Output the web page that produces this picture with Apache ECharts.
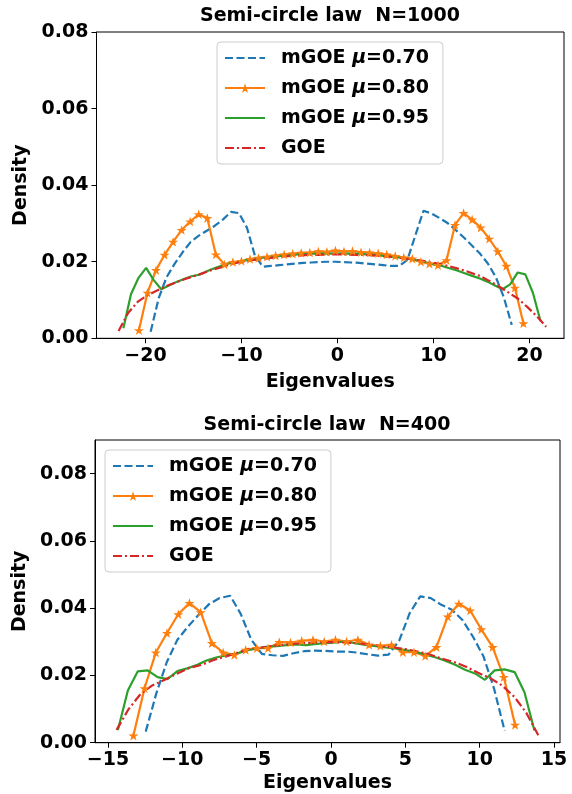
<!DOCTYPE html>
<html>
<head>
<meta charset="utf-8">
<script src="https://cdn.jsdelivr.net/npm/echarts@6/dist/echarts.min.js"></script>
<style>
html,body{margin:0;padding:0;background:#fff;}
#chart{width:572px;height:794px;}
</style>
</head>
<body>
<div id="chart"></div>
<script>
// ---------- Data: N=1000 ----------
const topBlueX = [-19.46,-18.62,-17.79,-16.95,-16.12,-15.28,-14.44,-13.61,-12.77,-11.94,-11.10,-10.26,-9.43,-8.59,-7.76,-6.92,-6.08,-5.25,-4.41,-3.58,-2.74,-1.90,-1.07,-0.23,0.60,1.44,2.28,3.11,3.95,4.78,5.62,6.46,7.29,8.13,8.96,9.80,10.64,11.47,12.31,13.14,13.98,14.82,15.65,16.49,17.32,18.16];
const topBlueY = [0.0017,0.0105,0.0160,0.0195,0.0225,0.0252,0.0268,0.0281,0.0294,0.0310,0.0330,0.0327,0.0289,0.0215,0.0187,0.0189,0.0191,0.0193,0.0195,0.0197,0.0198,0.0199,0.0200,0.0200,0.0199,0.0198,0.0197,0.0195,0.0193,0.0191,0.0189,0.0189,0.0205,0.0270,0.0333,0.0326,0.0314,0.0301,0.0283,0.0264,0.0243,0.0222,0.0196,0.0160,0.0108,0.0035];
const topOrangeX = [-20.68,-19.79,-18.90,-18.01,-17.12,-16.23,-15.34,-14.45,-13.56,-12.67,-11.78,-10.89,-10.00,-9.11,-8.22,-7.33,-6.44,-5.55,-4.66,-3.77,-2.88,-1.99,-1.10,-0.21,0.68,1.57,2.46,3.35,4.24,5.13,6.02,6.91,7.80,8.69,9.58,10.47,11.36,12.25,13.14,14.03,14.92,15.81,16.70,17.59,18.48,19.37];
const topOrangeY = [0.0021,0.0119,0.0178,0.0218,0.0252,0.0283,0.0305,0.0324,0.0314,0.0219,0.0193,0.0199,0.0202,0.0207,0.0210,0.0213,0.0216,0.0219,0.0221,0.0223,0.0224,0.0227,0.0226,0.0229,0.0227,0.0228,0.0225,0.0224,0.0222,0.0219,0.0215,0.0211,0.0208,0.0200,0.0195,0.0191,0.0204,0.0296,0.0327,0.0310,0.0289,0.0260,0.0227,0.0189,0.0132,0.0039];
const topGreenX = [-22.30,-21.51,-20.72,-19.93,-19.14,-18.35,-17.56,-16.77,-15.98,-15.19,-14.40,-13.61,-12.82,-12.03,-11.24,-10.45,-9.66,-8.87,-8.08,-7.29,-6.50,-5.71,-4.92,-4.13,-3.34,-2.55,-1.76,-0.97,-0.18,0.61,1.40,2.19,2.98,3.77,4.56,5.35,6.14,6.93,7.72,8.51,9.30,10.09,10.88,11.67,12.46,13.25,14.04,14.83,15.62,16.41,17.20,17.99,18.78,19.57,20.36,21.15];
const topGreenY = [0.0026,0.0115,0.0158,0.0184,0.0152,0.0128,0.0138,0.0147,0.0155,0.0162,0.0166,0.0175,0.0183,0.0190,0.0196,0.0199,0.0203,0.0207,0.0210,0.0212,0.0214,0.0216,0.0217,0.0219,0.0220,0.0221,0.0221,0.0222,0.0221,0.0222,0.0221,0.0221,0.0219,0.0218,0.0216,0.0214,0.0212,0.0209,0.0206,0.0202,0.0198,0.0193,0.0189,0.0183,0.0177,0.0170,0.0163,0.0156,0.0148,0.0138,0.0128,0.0141,0.0172,0.0167,0.0119,0.0045];
const topRedX = [-22.80,-21.81,-20.82,-19.83,-18.84,-17.85,-16.86,-15.87,-14.88,-13.89,-12.90,-11.91,-10.92,-9.93,-8.94,-7.95,-6.96,-5.97,-4.98,-3.99,-3.00,-2.01,-1.02,-0.03,0.96,1.95,2.94,3.93,4.92,5.91,6.90,7.89,8.88,9.87,10.86,11.85,12.84,13.83,14.82,15.81,16.80,17.79,18.78,19.77,20.76,21.75];
const topRedY = [0.0019,0.0066,0.0095,0.0112,0.0124,0.0136,0.0146,0.0155,0.0163,0.0171,0.0180,0.0187,0.0195,0.0200,0.0204,0.0207,0.0210,0.0213,0.0215,0.0216,0.0218,0.0218,0.0219,0.0219,0.0219,0.0218,0.0218,0.0216,0.0214,0.0212,0.0209,0.0206,0.0202,0.0198,0.0193,0.0187,0.0180,0.0172,0.0163,0.0150,0.0136,0.0120,0.0104,0.0082,0.0058,0.0030];

// ---------- Data: N=400 ----------
const botBlueX = [-12.46,-11.75,-11.04,-10.33,-9.62,-8.91,-8.20,-7.49,-6.78,-6.07,-5.36,-4.65,-3.94,-3.23,-2.52,-1.81,-1.10,-0.39,0.32,1.03,1.74,2.45,3.16,3.87,4.58,5.29,6.00,6.71,7.42,8.13,8.84,9.55,10.26,10.97,11.68];
const botBlueY = [0.0033,0.0146,0.0240,0.0306,0.0345,0.0380,0.0412,0.0430,0.0437,0.0383,0.0306,0.0264,0.0260,0.0258,0.0266,0.0272,0.0274,0.0273,0.0271,0.0271,0.0268,0.0263,0.0259,0.0262,0.0303,0.0385,0.0435,0.0430,0.0410,0.0395,0.0365,0.0315,0.0256,0.0160,0.0035];
const botOrangeX = [-13.29,-12.54,-11.78,-11.03,-10.27,-9.52,-8.76,-8.01,-7.25,-6.50,-5.74,-4.99,-4.23,-3.48,-2.72,-1.97,-1.21,-0.46,0.30,1.05,1.81,2.56,3.32,4.07,4.83,5.58,6.34,7.09,7.85,8.60,9.36,10.11,10.87,11.62,12.38];
const botOrangeY = [0.0021,0.0162,0.0268,0.0326,0.0382,0.0415,0.0388,0.0296,0.0268,0.0261,0.0276,0.0281,0.0281,0.0299,0.0298,0.0303,0.0306,0.0301,0.0306,0.0301,0.0306,0.0291,0.0288,0.0291,0.0269,0.0269,0.0258,0.0284,0.0375,0.0413,0.0393,0.0337,0.0284,0.0195,0.0053];
const botGreenX = [-14.33,-13.66,-13.00,-12.33,-11.66,-11.00,-10.33,-9.66,-8.99,-8.33,-7.66,-6.99,-6.33,-5.66,-4.99,-4.33,-3.66,-2.99,-2.32,-1.66,-0.99,-0.32,0.34,1.01,1.68,2.34,3.01,3.68,4.35,5.01,5.68,6.35,7.01,7.68,8.35,9.01,9.68,10.35,11.01,11.68,12.35,13.01,13.68];
const botGreenY = [0.0038,0.0155,0.0212,0.0215,0.0195,0.0189,0.0213,0.0221,0.0232,0.0245,0.0254,0.0260,0.0265,0.0274,0.0280,0.0285,0.0287,0.0290,0.0292,0.0290,0.0294,0.0296,0.0298,0.0301,0.0295,0.0291,0.0287,0.0283,0.0280,0.0275,0.0270,0.0262,0.0254,0.0244,0.0232,0.0217,0.0206,0.0187,0.0215,0.0218,0.0210,0.0150,0.0036];
const botRedX = [-14.42,-13.61,-12.80,-11.99,-11.18,-10.37,-9.55,-8.74,-7.93,-7.12,-6.31,-5.50,-4.69,-3.88,-3.07,-2.26,-1.45,-0.64,0.17,0.98,1.79,2.60,3.41,4.22,5.03,5.84,6.65,7.46,8.27,9.08,9.89,10.70,11.51,12.32,13.13,13.94];
const botRedY = [0.0038,0.0100,0.0145,0.0171,0.0187,0.0205,0.0222,0.0231,0.0245,0.0256,0.0267,0.0279,0.0283,0.0288,0.0292,0.0295,0.0297,0.0299,0.0299,0.0298,0.0296,0.0292,0.0287,0.0283,0.0278,0.0271,0.0262,0.0250,0.0240,0.0226,0.0208,0.0192,0.0170,0.0137,0.0089,0.0022];

// ---------- Labels / ticks ----------
const seriesNames = ['mGOE μ=0.70', 'mGOE μ=0.80', 'mGOE μ=0.95', 'GOE'];
const titles = ['Semi-circle law  N=1000', 'Semi-circle law  N=400'];
const topXTicks = [-20, -10, 0, 10, 20];
const botXTicks = [-15, -10, -5, 0, 5, 10, 15];
const topYTicks = [0, 0.02, 0.04, 0.06, 0.08];
const botYTicks = [0, 0.02, 0.04, 0.06, 0.08];

const FONT = 'DejaVu Sans';
const BLUE = '#1f77b4', ORANGE = '#ff7f0e', GREEN = '#2ca02c', RED = '#d62728';
const STAR = 'path://M50,0 L61.8,35.1 L97.6,35.1 L68.8,56.7 L79.4,90.5 L50,70 L20.6,90.5 L31.2,56.7 L2.4,35.1 L38.2,35.1 Z';

function pairs(xs, ys) { return xs.map((x, i) => [x, ys[i]]); }
function fmtX(v) { return v < 0 ? '\u2212' + Math.abs(v) : String(v); }
function fmtY(v) { return v.toFixed(2); }

function xAxis(gi, min, max, ticks, gap) {
  return {
    type: 'value', gridIndex: gi, min: min, max: max,
    axisLine: { show: true, onZero: false, lineStyle: { color: '#000', width: 1 } },
    axisTick: { show: true, length: 5, customValues: ticks, lineStyle: { color: '#000', width: 1 } },
    axisLabel: { customValues: ticks, formatter: fmtX, color: '#000', fontSize: 19, fontWeight: 'bold', fontFamily: FONT, margin: 8 },
    splitLine: { show: false },
    name: 'Eigenvalues', nameLocation: 'middle', nameGap: gap,
    nameTextStyle: { fontSize: 19, fontWeight: 'bold', color: '#000', fontFamily: FONT }
  };
}
function yAxis(gi, max, ticks) {
  return {
    type: 'value', gridIndex: gi, min: 0, max: max,
    axisLine: { show: true, onZero: false, lineStyle: { color: '#000', width: 1 } },
    axisTick: { show: true, length: 5, customValues: ticks, lineStyle: { color: '#000', width: 1 } },
    axisLabel: { customValues: ticks, formatter: fmtY, color: '#000', fontSize: 19, fontWeight: 'bold', fontFamily: FONT, margin: 8 },
    splitLine: { show: false },
    name: 'Density', nameLocation: 'middle', nameGap: 65, nameRotate: 90,
    nameTextStyle: { fontSize: 19, fontWeight: 'bold', color: '#000', fontFamily: FONT }
  };
}
function legend(left, top) {
  return {
    data: [
      { name: seriesNames[0], itemStyle: { opacity: 0 } },
      { name: seriesNames[1] },
      { name: seriesNames[2], itemStyle: { opacity: 0 } },
      { name: seriesNames[3], itemStyle: { opacity: 0 } }
    ],
    orient: 'vertical', left: left, top: top,
    padding: [6, 14, 6, 7], itemWidth: 40, itemHeight: 12, itemGap: 10,
    selectedMode: false,
    backgroundColor: 'rgba(255,255,255,0.8)', borderColor: '#cccccc', borderWidth: 1, borderRadius: 4,
    formatter: function (name) {
      if (name === 'GOE') return '{b|GOE}';
      const p = name.split('μ');
      return '{b|' + p[0] + '}{i|μ}{b|' + p[1] + '}';
    },
    textStyle: {
      padding: [0, 0, 0, 11], lineHeight: 20,
      rich: {
        b: { fontSize: 19, fontWeight: 'bold', color: '#000', fontFamily: FONT, lineHeight: 20 },
        i: { fontSize: 19, fontWeight: 'bold', fontStyle: 'italic', color: '#000', fontFamily: FONT, lineHeight: 20 }
      }
    }
  };
}
function makeSeries(gi, bx, by, ox, oy, gx, gy, rx, ry) {
  return [
    { name: seriesNames[0], type: 'line', xAxisIndex: gi, yAxisIndex: gi, data: pairs(bx, by), symbol: 'none',
      lineStyle: { color: BLUE, width: 2.2, type: [8, 3.5] }, itemStyle: { color: BLUE } },
    { name: seriesNames[1], type: 'line', xAxisIndex: gi, yAxisIndex: gi, data: pairs(ox, oy), symbol: STAR, symbolSize: 10,
      showSymbol: true, showAllSymbol: true, symbolKeepAspect: true,
      lineStyle: { color: ORANGE, width: 2.2 }, itemStyle: { color: ORANGE, borderWidth: 0 } },
    { name: seriesNames[2], type: 'line', xAxisIndex: gi, yAxisIndex: gi, data: pairs(gx, gy), symbol: 'none',
      lineStyle: { color: GREEN, width: 2.2 }, itemStyle: { color: GREEN } },
    { name: seriesNames[3], type: 'line', xAxisIndex: gi, yAxisIndex: gi, data: pairs(rx, ry), symbol: 'none',
      lineStyle: { color: RED, width: 2.2, type: [9, 3, 2, 3] }, itemStyle: { color: RED } }
  ];
}

const chart = echarts.init(document.getElementById('chart'), null, { renderer: 'canvas' });
chart.setOption({
  animation: false,
  backgroundColor: '#fff',
  textStyle: { fontFamily: FONT },
  grid: [
    { left: 96.5, top: 32, width: 467.5, height: 306.3, show: true, borderColor: '#000', borderWidth: 1, containLabel: false },
    { left: 95, top: 440, width: 465, height: 302.7, show: true, borderColor: '#000', borderWidth: 1, containLabel: false }
  ],
  xAxis: [xAxis(0, -25.1, 23.6, topXTicks, 34), xAxis(1, -15.87, 15.4, botXTicks, 31)],
  yAxis: [yAxis(0, 0.08, topYTicks), yAxis(1, 0.09, botYTicks)],
  legend: [legend(217, 42), legend(105, 450)],
  graphic: [
    { type: 'text', x: 330, y: 16, style: { text: titles[0], textAlign: 'center', textVerticalAlign: 'middle', font: 'bold 19px "DejaVu Sans"', fill: '#000' } },
    { type: 'text', x: 327, y: 425, style: { text: titles[1], textAlign: 'center', textVerticalAlign: 'middle', font: 'bold 19px "DejaVu Sans"', fill: '#000' } }
  ],
  series: [].concat(
    makeSeries(0, topBlueX, topBlueY, topOrangeX, topOrangeY, topGreenX, topGreenY, topRedX, topRedY),
    makeSeries(1, botBlueX, botBlueY, botOrangeX, botOrangeY, botGreenX, botGreenY, botRedX, botRedY)
  )
});
</script>
</body>
</html>
